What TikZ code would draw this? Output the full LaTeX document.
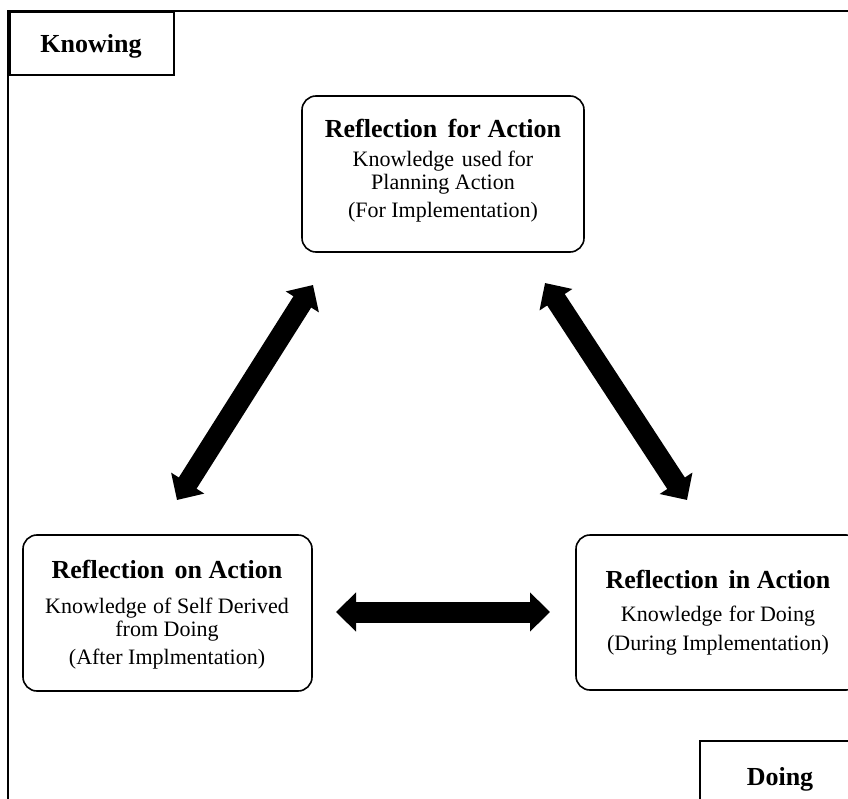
\documentclass[tikz,border=0pt]{standalone}
\usepackage{fontspec}
\setmainfont{Liberation Serif}
\usetikzlibrary{arrows.meta}
\begin{document}
\begin{tikzpicture}[x=1pt,y=-1pt,
  rbox/.style={draw, line width=1.6pt, rounded corners=14pt, inner sep=0pt},
  tbox/.style={draw, line width=2.6pt, inner sep=0pt},
  ttl/.style={anchor=base, inner sep=0pt, font=\fontsize{26}{30}\selectfont\bfseries},
  body/.style={anchor=base, inner sep=0pt, font=\fontsize{22}{26}\selectfont},
  lbl/.style={anchor=base, inner sep=0pt, font=\fontsize{26}{30}\selectfont\bfseries},
  fat/.style={line width=21pt, {Triangle[length=20pt,width=38pt]}-{Triangle[length=20pt,width=38pt]}}
]
\useasboundingbox (0,0) rectangle (848,799);
\fill[white] (0,0) rectangle (848,799);
\begin{scope}
\clip (0,0) rectangle (848,799);
% outer frame
\draw[line width=2pt] (8,11) rectangle (900,900);
% corner label boxes
\node[tbox, fill=white, minimum width=164pt, minimum height=63pt] (kbox) at (92,43.5) {};
\node[lbl] (ktext) at (91,53) {Knowing};
\node[tbox, fill=white, minimum width=200pt, minimum height=159pt] (dbox) at (800,820.5) {};
\node[lbl] (dtext) at (780,785) {Doing};
% main boxes
\node[rbox, minimum width=282pt, minimum height=156pt] (F) at (443,174) {};
\node[rbox, minimum width=289pt, minimum height=156pt] (O) at (167.5,613) {};
\node[rbox, minimum width=284pt, minimum height=155pt] (I) at (718,612.5) {};
% texts F
\node[ttl]  (f1) at (443,138) {Reflection\hspace{0.4em}for Action};
\node[body] (f2) at (443,167) {Knowledge\hspace{0.35em}used for};
\node[body] (f3) at (443,190) {Planning Action};
\node[body] (f4) at (443,218) {(For Implementation)};
% texts O
\node[ttl]  (o1) at (167,578) {Reflection\hspace{0.4em}on Action};
\node[body] (o2) at (167,613) {Knowledge\hspace{0.3em}of Self Derived};
\node[body] (o3) at (167,636) {from Doing};
\node[body] (o4) at (167,664) {(After Implmentation)};
% texts I
\node[ttl]  (i1) at (718,588) {Reflection\hspace{0.4em}in Action};
\node[body] (i2) at (718,621) {Knowledge\hspace{0.3em}for Doing};
\node[body] (i3) at (718,650) {(During Implementation)};
% arrows
\coordinate (a1) at (313,285);
\coordinate (a2) at (177,500);
\coordinate (b1) at (545,283);
\coordinate (b2) at (687,500);
\coordinate (c1) at (336,612);
\coordinate (c2) at (550,612);
\draw[fat] (a2) -- (a1);
\draw[fat] (b1) -- (b2);
\draw[fat] (c1) -- (c2);
\end{scope}
\end{tikzpicture}
\end{document}
